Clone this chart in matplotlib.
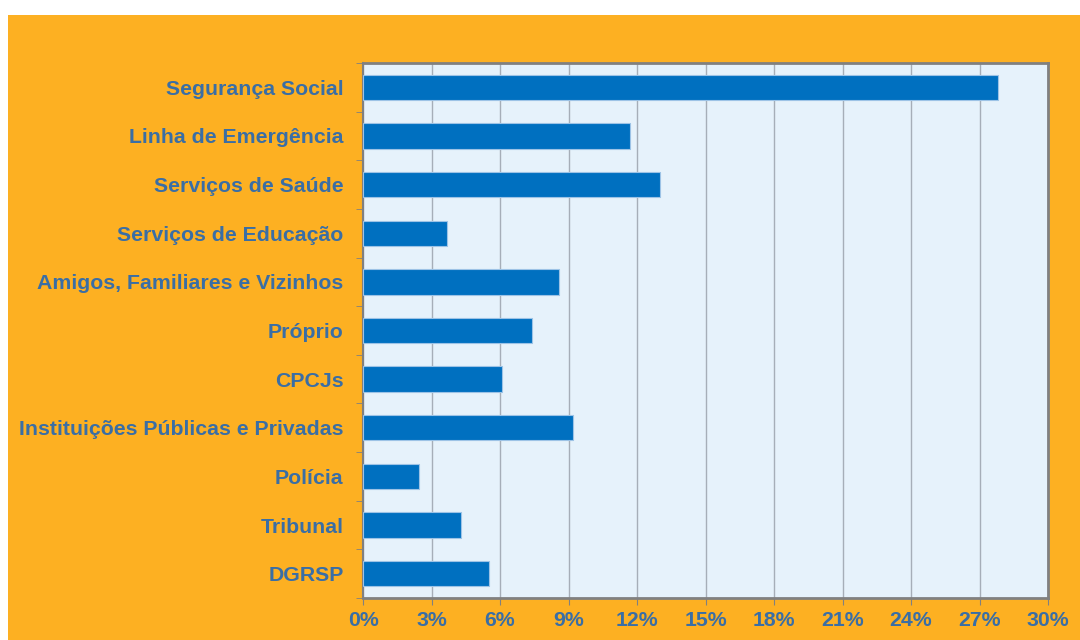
import numpy as np
import matplotlib.pyplot as plt
from matplotlib.patches import Rectangle
from matplotlib.ticker import MultipleLocator, FuncFormatter

plt.rcParams['font.family'] = ['Liberation Sans', 'DejaVu Sans']

categories = ['Segurança Social', 'Linha de Emergência', 'Serviços de Saúde',
              'Serviços de Educação', 'Amigos, Familiares e Vizinhos', 'Próprio',
              'CPCJs', 'Instituições Públicas e Privadas', 'Polícia', 'Tribunal', 'DGRSP']
values = [27.8, 11.7, 13.0, 3.7, 8.6, 7.4, 6.1, 9.2, 2.45, 4.3, 5.5]

orange = '#FDB022'
text_col = '#3A6EA5'
bar_col = '#0070C0'

fig = plt.figure(figsize=(10.8, 6.4), dpi=100)
fig.patch.set_facecolor('white')
# orange panel below a thin white strip
fig.patches.append(Rectangle((8 / 1080, 0), 1 - 8 / 1080, 1 - 15 / 640,
                             transform=fig.transFigure, facecolor=orange,
                             edgecolor='none', zorder=-10))

ax = fig.add_axes([363 / 1080, 1 - 598 / 640, 685 / 1080, 535 / 640])
ax.set_facecolor('#E6F2FB')

y = np.arange(len(categories))
ax.barh(y, values, height=0.52, color=bar_col, edgecolor='#9DC3E6', linewidth=0.8, zorder=3)

ax.set_xlim(0, 30)
ax.set_ylim(len(categories) - 0.5, -0.5)
ax.xaxis.set_major_locator(MultipleLocator(3))
ax.xaxis.set_major_formatter(FuncFormatter(lambda v, p: f'{v:.0f}%'))
ax.grid(axis='x', color='#A6AEB8', linewidth=1, zorder=1)

ax.set_yticks(y)
ax.set_yticklabels(categories)
ax.set_yticks(np.arange(len(categories) + 1) - 0.5, minor=True)
ax.tick_params(axis='y', which='major', length=0, pad=14)
ax.tick_params(axis='y', which='minor', length=5, color='#808080', direction='out')
ax.tick_params(axis='x', length=5, color='#808080', direction='out', pad=4)

for lab in ax.get_yticklabels() + ax.get_xticklabels():
    lab.set_color(text_col)
    lab.set_fontweight('bold')
    lab.set_fontsize(15.3)

for side in ['top', 'right', 'bottom', 'left']:
    ax.spines[side].set_color('#808080')
    ax.spines[side].set_linewidth(2)
ax.spines['left'].set_linewidth(1.5)

fig.savefig('out.png', dpi=100, facecolor=fig.get_facecolor())
